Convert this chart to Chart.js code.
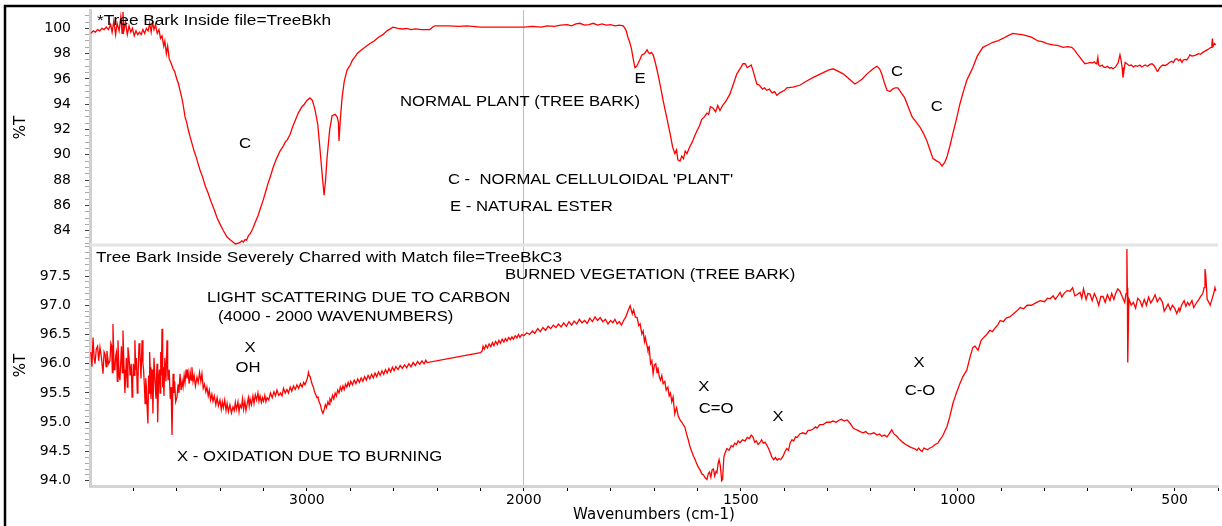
<!DOCTYPE html>
<html>
<head>
<meta charset="utf-8">
<title>Tree bark IR spectra</title>
<script src="https://cdn.jsdelivr.net/npm/chart.js@4.4.1/dist/chart.umd.min.js"></script>
<style>
  html, body { margin: 0; padding: 0; background: #fff; }
  #wrap { width: 1222px; height: 526px; }
</style>
</head>
<body>
<div id="wrap"><canvas id="irChart" width="1222" height="526"></canvas></div>
<script>
// Spectra: [wavenumber (cm-1), %T]
const normalBark = [
  [3996, 99.6], [3985, 99.8], [3975, 99.7], [3965, 99.9], [3955, 99.8], [3945, 100.0],
  [3935, 99.9], [3925, 100.1], [3915, 99.9], [3905, 100.3], [3898, 99.7], [3890, 100.6],
  [3882, 99.5], [3875, 100.4], [3866, 99.8], [3858, 100.9], [3852, 99.6], [3848, 101.3],
  [3843, 99.9], [3836, 100.5], [3828, 99.5], [3820, 100.2], [3812, 99.7], [3804, 100.0],
  [3796, 99.4], [3788, 99.8], [3780, 99.5], [3772, 99.7], [3764, 99.5], [3756, 99.9],
  [3748, 99.6], [3740, 100.0], [3732, 99.8], [3725, 100.4], [3718, 99.7], [3712, 100.5],
  [3705, 99.9], [3698, 100.3], [3690, 99.6], [3682, 99.9], [3675, 99.2], [3668, 99.4],
  [3660, 98.6], [3655, 99.0], [3648, 98.0], [3642, 98.6], [3635, 97.6], [3625, 97.2],
  [3617, 96.8], [3610, 96.6], [3600, 96.0], [3592, 95.6], [3585, 95.1], [3578, 94.6],
  [3570, 93.9], [3562, 93.0], [3555, 92.6], [3546, 91.9], [3538, 91.4], [3530, 90.9],
  [3520, 90.3], [3510, 89.8], [3500, 89.2], [3493, 88.8], [3480, 88.2], [3468, 87.5],
  [3456, 87.0], [3442, 86.3], [3428, 85.7], [3414, 85.0], [3400, 84.5], [3385, 84.0],
  [3368, 83.5], [3355, 83.3], [3341, 83.1], [3330, 82.95], [3320, 83.0], [3310, 83.05],
  [3300, 83.2], [3293, 83.1], [3285, 83.3], [3278, 83.25], [3270, 83.6], [3260, 83.8],
  [3249, 84.2], [3237, 84.7], [3225, 85.2], [3214, 85.8], [3202, 86.4], [3190, 87.1],
  [3180, 87.7], [3168, 88.3], [3156, 89.0], [3140, 89.7], [3124, 90.3], [3112, 90.6],
  [3100, 91.0], [3090, 91.2], [3078, 91.6], [3064, 92.3], [3052, 92.8], [3040, 93.3],
  [3023, 93.8], [3012, 94.0], [3000, 94.3], [2986, 94.5], [2975, 94.3], [2963, 93.6],
  [2950, 92.4], [2940, 90.5], [2930, 88.5], [2921, 86.8], [2914, 88.0], [2907, 89.8],
  [2895, 92.0], [2884, 93.1], [2870, 93.2], [2861, 93.0], [2855, 92.6], [2852, 91.1],
  [2846, 92.8], [2838, 94.5], [2828, 95.8], [2815, 96.7], [2800, 97.1], [2790, 97.5],
  [2780, 97.7], [2769, 98.0], [2755, 98.2], [2740, 98.4], [2725, 98.6], [2709, 98.8],
  [2690, 99.0], [2670, 99.3], [2650, 99.5], [2631, 99.8], [2603, 100.1], [2580, 100.0],
  [2560, 99.95], [2540, 100.0], [2520, 99.9], [2500, 99.95], [2470, 99.9], [2433, 99.9],
  [2420, 100.1], [2410, 100.2], [2350, 100.2], [2300, 100.15], [2262, 100.2], [2202, 100.1],
  [2100, 100.1], [2000, 100.1], [1980, 100.15], [1960, 100.1], [1947, 100.2], [1930, 100.15],
  [1915, 100.25], [1900, 100.3], [1890, 100.2], [1880, 100.35], [1871, 100.4], [1860, 100.25],
  [1850, 100.3], [1840, 100.4], [1830, 100.25], [1820, 100.35], [1810, 100.25], [1800, 100.3],
  [1790, 100.2], [1780, 100.25], [1771, 100.2], [1765, 99.9], [1760, 99.3], [1756, 98.9],
  [1752, 98.4], [1748, 97.6], [1744, 96.9], [1740, 97.0], [1737, 97.2], [1733, 97.5],
  [1728, 97.9], [1722, 98.0], [1716, 98.3], [1713, 98.1], [1710, 98.0], [1706, 98.1],
  [1702, 97.9], [1697, 97.3], [1691, 96.4], [1685, 95.4], [1679, 94.3], [1671, 93.0],
  [1663, 91.7], [1657, 90.6], [1652, 90.1], [1648, 90.4], [1645, 89.6], [1640, 89.5],
  [1636, 89.9], [1632, 89.7], [1628, 90.3], [1624, 90.1], [1618, 90.6], [1612, 91.0],
  [1606, 91.5], [1601, 91.9], [1595, 92.3], [1590, 92.8], [1584, 93.0], [1578, 93.3],
  [1574, 93.2], [1570, 93.8], [1564, 93.7], [1558, 93.4], [1553, 93.9], [1548, 93.5],
  [1542, 93.9], [1535, 94.2], [1530, 94.5], [1525, 94.8], [1517, 95.6], [1509, 96.4],
  [1500, 96.9], [1495, 97.2], [1490, 97.2], [1485, 96.9], [1480, 97.0], [1476, 97.1],
  [1472, 96.7], [1468, 96.2], [1463, 95.6], [1457, 95.5], [1450, 95.2], [1445, 95.3],
  [1440, 95.1], [1434, 95.2], [1428, 94.9], [1422, 95.0], [1417, 94.7], [1410, 94.9],
  [1405, 95.0], [1399, 95.1], [1394, 95.3], [1380, 95.35], [1364, 95.5], [1350, 95.8],
  [1334, 96.1], [1322, 96.3], [1310, 96.5], [1298, 96.7], [1287, 96.8], [1275, 96.6],
  [1264, 96.4], [1250, 96.0], [1237, 95.6], [1228, 95.8], [1220, 96.0], [1209, 96.4],
  [1195, 96.8], [1186, 97.0], [1180, 96.8], [1175, 96.4], [1169, 95.7], [1163, 95.1],
  [1156, 95.0], [1150, 95.2], [1144, 95.3], [1138, 95.3], [1130, 94.9], [1122, 94.5],
  [1113, 93.7], [1105, 93.0], [1096, 92.6], [1087, 92.2], [1079, 91.7], [1071, 91.1],
  [1064, 90.4], [1057, 89.7], [1052, 89.6], [1048, 89.5], [1042, 89.4], [1036, 89.1],
  [1030, 89.4], [1025, 89.8], [1018, 90.7], [1011, 91.7], [1003, 92.8], [995, 94.0],
  [987, 95.0], [979, 95.9], [972, 96.4], [965, 96.9], [955, 97.8], [942, 98.5],
  [930, 98.7], [919, 98.9], [908, 99.0], [896, 99.2], [885, 99.4], [873, 99.6],
  [862, 99.55], [852, 99.5], [840, 99.4], [830, 99.3], [815, 99.0], [805, 98.95],
  [794, 98.8], [780, 98.7], [770, 98.65], [757, 98.5], [747, 98.55], [737, 98.5],
  [731, 98.3], [725, 98.0], [716, 97.6], [707, 97.2], [700, 97.25], [695, 97.3],
  [690, 97.25], [685, 97.35], [681, 97.2], [679, 97.3], [677, 97.7], [675, 97.1],
  [672, 97.0], [667, 97.1], [664, 96.95], [660, 96.9], [655, 97.0], [650, 96.85],
  [646, 96.9], [642, 96.8], [636, 96.95], [630, 97.3], [626, 97.9], [623, 97.4],
  [621, 96.9], [619, 96.1], [617, 96.6], [614, 97.3], [610, 97.2], [605, 97.05],
  [600, 97.1], [595, 96.95], [590, 97.05], [585, 97.0], [580, 97.1], [576, 96.95],
  [573, 97.0], [568, 97.1], [562, 97.0], [557, 97.15], [552, 97.2], [547, 97.05],
  [543, 96.8], [540, 96.6], [538, 96.65], [535, 96.85], [531, 97.0], [527, 97.1],
  [522, 97.05], [517, 97.15], [512, 97.3], [507, 97.4], [503, 97.3], [499, 97.55],
  [495, 97.6], [491, 97.45], [487, 97.55], [483, 97.3], [480, 97.5], [476, 97.55],
  [472, 97.5], [468, 97.7], [465, 97.9], [460, 97.8], [455, 97.85], [450, 97.9],
  [445, 98.0], [440, 97.95], [435, 98.1], [430, 98.2], [425, 98.3], [420, 98.4],
  [416, 98.5], [414, 98.8], [413, 99.2], [411, 98.6], [408, 98.8], [405, 98.7]
];

const burnedBark = [
  [3996, 96.2], [3991, 95.95], [3986, 96.45], [3981, 96.1], [3977, 96.0], [3971, 96.25],
  [3965, 96.3], [3960, 96.05], [3954, 96.28], [3947, 96.1], [3940, 95.83], [3935, 96.2],
  [3930, 96.15], [3926, 95.95], [3922, 96.22], [3915, 96.0], [3908, 96.05], [3904, 96.35],
  [3900, 96.3], [3897, 95.85], [3894, 96.68], [3889, 95.9], [3885, 95.94], [3881, 96.15],
  [3878, 96.2], [3874, 95.7], [3871, 96.4], [3866, 95.8], [3862, 95.72], [3858, 96.05],
  [3855, 96.3], [3851, 95.85], [3848, 96.57], [3843, 95.9], [3839, 95.5], [3835, 95.85],
  [3832, 96.1], [3828, 95.6], [3825, 96.28], [3820, 96.1], [3815, 95.8], [3810, 96.0],
  [3806, 95.43], [3803, 95.7], [3800, 96.0], [3796, 95.8], [3793, 96.4], [3789, 95.9],
  [3786, 96.1], [3782, 95.5], [3779, 95.72], [3774, 96.35], [3770, 96.2], [3765, 95.75],
  [3760, 96.4], [3756, 96.0], [3753, 95.9], [3749, 95.6], [3746, 95.32], [3743, 95.75],
  [3740, 95.6], [3736, 95.2], [3733, 94.98], [3730, 95.8], [3728, 95.5], [3725, 96.2],
  [3723, 95.94], [3719, 95.4], [3716, 95.6], [3713, 95.9], [3710, 95.15], [3705, 96.1],
  [3700, 95.7], [3696, 95.4], [3691, 96.0], [3689, 95.6], [3687, 95.0], [3684, 95.7],
  [3680, 95.9], [3677, 95.5], [3674, 96.2], [3671, 95.8], [3668, 96.6], [3665, 95.6],
  [3663, 95.94], [3659, 95.45], [3655, 96.1], [3650, 95.7], [3645, 96.4], [3642, 95.9],
  [3640, 95.72], [3635, 95.9], [3630, 95.4], [3626, 95.6], [3622, 94.78], [3619, 95.4],
  [3617, 95.83], [3613, 95.5], [3610, 95.7], [3605, 95.35], [3599, 95.43], [3594, 95.65],
  [3590, 95.5], [3585, 95.83], [3580, 95.55], [3575, 95.7], [3571, 95.6], [3566, 95.8],
  [3562, 95.68], [3557, 95.9], [3553, 95.75], [3548, 95.86], [3543, 95.66], [3538, 95.85],
  [3534, 95.72], [3530, 95.94], [3525, 95.7], [3520, 95.8], [3514, 95.62], [3507, 95.77],
  [3501, 95.68], [3495, 95.85], [3489, 95.7], [3484, 95.83], [3478, 95.58], [3472, 95.65],
  [3466, 95.52], [3461, 95.6], [3455, 95.45], [3450, 95.55], [3444, 95.38], [3438, 95.48],
  [3433, 95.36], [3427, 95.45], [3420, 95.3], [3414, 95.42], [3408, 95.28], [3401, 95.38],
  [3395, 95.22], [3390, 95.35], [3385, 95.25], [3379, 95.38], [3373, 95.2], [3368, 95.32],
  [3362, 95.18], [3355, 95.3], [3348, 95.16], [3341, 95.26], [3335, 95.2], [3330, 95.34],
  [3325, 95.22], [3318, 95.35], [3313, 95.18], [3308, 95.3], [3302, 95.25], [3297, 95.4],
  [3292, 95.22], [3286, 95.36], [3281, 95.2], [3276, 95.3], [3270, 95.42], [3266, 95.28],
  [3262, 95.4], [3256, 95.3], [3249, 95.45], [3244, 95.32], [3238, 95.47], [3232, 95.38],
  [3226, 95.5], [3221, 95.36], [3216, 95.45], [3210, 95.34], [3205, 95.42], [3200, 95.36],
  [3194, 95.46], [3189, 95.35], [3184, 95.42], [3176, 95.38], [3168, 95.5], [3160, 95.42],
  [3152, 95.52], [3145, 95.45], [3138, 95.55], [3130, 95.46], [3122, 95.5], [3115, 95.45],
  [3108, 95.58], [3100, 95.5], [3092, 95.56], [3085, 95.5], [3077, 95.6], [3070, 95.53],
  [3062, 95.62], [3054, 95.56], [3046, 95.64], [3038, 95.58], [3030, 95.66], [3022, 95.6],
  [3015, 95.68], [3009, 95.64], [3003, 95.7], [2998, 95.75], [2993, 95.85], [2990, 95.8],
  [2985, 95.78], [2980, 95.7], [2975, 95.64], [2970, 95.6], [2965, 95.52], [2960, 95.48],
  [2954, 95.42], [2949, 95.43], [2944, 95.35], [2938, 95.3], [2932, 95.2], [2926, 95.15],
  [2920, 95.22], [2915, 95.3], [2910, 95.25], [2903, 95.35], [2898, 95.3], [2894, 95.4],
  [2888, 95.36], [2882, 95.46], [2876, 95.4], [2870, 95.5], [2864, 95.45], [2858, 95.55],
  [2852, 95.5], [2846, 95.6], [2840, 95.54], [2834, 95.62], [2828, 95.56], [2822, 95.65],
  [2816, 95.6], [2810, 95.68], [2804, 95.62], [2798, 95.7], [2790, 95.64], [2782, 95.72],
  [2774, 95.66], [2766, 95.74], [2758, 95.68], [2750, 95.76], [2742, 95.7], [2734, 95.78],
  [2726, 95.72], [2718, 95.8], [2710, 95.74], [2702, 95.82], [2694, 95.76], [2686, 95.84],
  [2678, 95.78], [2670, 95.86], [2662, 95.8], [2654, 95.88], [2646, 95.82], [2638, 95.9],
  [2630, 95.84], [2622, 95.92], [2614, 95.86], [2606, 95.94], [2598, 95.88], [2590, 95.95],
  [2580, 95.9], [2570, 95.97], [2560, 95.92], [2550, 95.98], [2540, 95.93], [2530, 96.0],
  [2520, 95.95], [2510, 96.02], [2500, 95.97], [2490, 96.04], [2480, 95.99], [2470, 96.05],
  [2460, 96.0], [2452, 96.06], [2446, 96.02], [2200, 96.19], [2192, 96.22], [2188, 96.3],
  [2182, 96.25], [2175, 96.32], [2168, 96.27], [2160, 96.34], [2152, 96.29], [2145, 96.36],
  [2138, 96.31], [2130, 96.38], [2122, 96.33], [2115, 96.4], [2108, 96.35], [2100, 96.42],
  [2092, 96.37], [2085, 96.43], [2078, 96.39], [2070, 96.45], [2062, 96.41], [2055, 96.46],
  [2048, 96.42], [2040, 96.48], [2032, 96.44], [2025, 96.5], [2018, 96.45], [2010, 96.5],
  [2000, 96.48], [1993, 96.53], [1987, 96.5], [1980, 96.56], [1975, 96.52], [1968, 96.6],
  [1962, 96.55], [1956, 96.62], [1950, 96.57], [1944, 96.64], [1938, 96.6], [1932, 96.66],
  [1926, 96.62], [1920, 96.68], [1914, 96.63], [1908, 96.7], [1902, 96.64], [1896, 96.72],
  [1890, 96.66], [1884, 96.73], [1878, 96.68], [1872, 96.76], [1866, 96.7], [1860, 96.74],
  [1854, 96.69], [1848, 96.78], [1842, 96.72], [1836, 96.8], [1830, 96.74], [1824, 96.79],
  [1818, 96.72], [1812, 96.76], [1806, 96.68], [1800, 96.74], [1795, 96.7], [1790, 96.76],
  [1785, 96.68], [1780, 96.72], [1775, 96.66], [1770, 96.74], [1765, 96.8], [1760, 96.9],
  [1755, 96.99], [1750, 96.85], [1747, 96.92], [1743, 96.8], [1739, 96.79], [1735, 96.65],
  [1732, 96.68], [1728, 96.51], [1725, 96.56], [1722, 96.38], [1720, 96.45], [1716, 96.3],
  [1714, 96.23], [1711, 96.28], [1708, 96.0], [1705, 96.05], [1702, 95.83], [1699, 95.98],
  [1696, 96.0], [1693, 95.85], [1691, 95.94], [1688, 95.78], [1685, 95.72], [1682, 95.8],
  [1679, 95.66], [1675, 95.7], [1672, 95.55], [1668, 95.6], [1665, 95.45], [1662, 95.5],
  [1659, 95.35], [1656, 95.43], [1653, 95.2], [1652, 95.15], [1648, 95.25], [1644, 95.1],
  [1640, 95.04], [1636, 95.0], [1632, 94.95], [1629, 94.92], [1625, 94.8], [1621, 94.7],
  [1617, 94.58], [1613, 94.5], [1609, 94.42], [1605, 94.36], [1601, 94.28], [1597, 94.22],
  [1594, 94.19], [1590, 94.12], [1586, 94.1], [1582, 94.05], [1578, 94.02], [1575, 94.12],
  [1572, 94.15], [1569, 94.06], [1566, 94.19], [1563, 94.2], [1560, 94.08], [1557, 94.16],
  [1555, 94.14], [1552, 94.3], [1550, 94.36], [1547, 94.25], [1544, 94.0], [1542, 94.02],
  [1539, 94.4], [1536, 94.48], [1532, 94.55], [1527, 94.52], [1522, 94.6], [1518, 94.58],
  [1514, 94.64], [1510, 94.62], [1506, 94.68], [1502, 94.65], [1496, 94.7], [1490, 94.68],
  [1485, 94.74], [1480, 94.72], [1476, 94.78], [1472, 94.75], [1468, 94.66], [1464, 94.68],
  [1460, 94.62], [1456, 94.65], [1452, 94.7], [1448, 94.64], [1444, 94.66], [1440, 94.61],
  [1436, 94.55], [1432, 94.48], [1428, 94.4], [1424, 94.36], [1420, 94.4], [1416, 94.35],
  [1412, 94.38], [1408, 94.36], [1403, 94.41], [1398, 94.5], [1394, 94.55], [1390, 94.52],
  [1386, 94.65], [1382, 94.70], [1378, 94.68], [1374, 94.75], [1370, 94.74], [1364, 94.8],
  [1357, 94.82], [1350, 94.8], [1345, 94.86], [1340, 94.86], [1334, 94.88], [1328, 94.92],
  [1324, 94.90], [1318, 94.96], [1310, 94.96], [1302, 95.0], [1294, 95.0], [1288, 95.02],
  [1280, 95.0], [1275, 95.03], [1268, 95.05], [1262, 95.02], [1255, 95.04], [1250, 95.0],
  [1245, 94.95], [1241, 94.90], [1236, 94.88], [1230, 94.86], [1225, 94.84], [1218, 94.82],
  [1212, 94.84], [1206, 94.8], [1200, 94.80], [1193, 94.82], [1186, 94.78], [1180, 94.8],
  [1175, 94.76], [1169, 94.78], [1163, 94.75], [1158, 94.8], [1152, 94.87], [1147, 94.8],
  [1140, 94.76], [1136, 94.72], [1133, 94.70], [1127, 94.66], [1120, 94.62], [1115, 94.6],
  [1110, 94.58], [1105, 94.56], [1100, 94.55], [1094, 94.52], [1090, 94.56], [1087, 94.53],
  [1082, 94.5], [1078, 94.56], [1075, 94.55], [1070, 94.53], [1064, 94.56], [1058, 94.58],
  [1052, 94.62], [1046, 94.64], [1041, 94.70], [1035, 94.76], [1030, 94.84], [1025, 94.92],
  [1018, 95.1], [1011, 95.32], [1004, 95.48], [995, 95.66], [988, 95.78], [979, 95.89],
  [972, 96.1], [965, 96.28], [960, 96.3], [953, 96.23], [946, 96.4], [940, 96.45],
  [933, 96.5], [926, 96.57], [920, 96.55], [915, 96.6], [908, 96.66], [902, 96.74],
  [895, 96.72], [888, 96.78], [880, 96.8], [872, 96.85], [864, 96.9], [856, 96.96],
  [848, 96.94], [840, 97.0], [830, 97.0], [820, 97.04], [810, 97.08], [800, 97.06],
  [793, 97.12], [787, 97.11], [780, 97.16], [775, 97.1], [770, 97.15], [764, 97.22],
  [760, 97.14], [755, 97.2], [748, 97.25], [741, 97.24], [735, 97.3], [730, 97.16],
  [725, 97.18], [718, 97.22], [714, 97.12], [710, 97.28], [704, 97.1], [700, 97.2],
  [695, 97.19], [690, 97.08], [685, 97.2], [680, 97.12], [675, 97.0], [670, 97.15],
  [665, 97.15], [660, 97.05], [655, 97.18], [649, 97.08], [645, 97.2], [640, 97.1],
  [636, 97.2], [631, 97.28], [626, 97.24], [621, 97.15], [615, 97.05], [612, 97.2],
  [610, 97.96], [609, 97.3], [608, 96.02], [606, 96.9], [605, 97.1], [600, 97.0],
  [595, 97.05], [590, 96.95], [585, 97.12], [580, 97.08], [575, 96.98], [570, 97.1],
  [565, 97.0], [560, 97.14], [555, 97.04], [550, 97.1], [545, 97.18], [540, 97.06],
  [534, 97.13], [528, 97.05], [524, 96.9], [520, 96.95], [515, 97.02], [510, 96.92],
  [505, 97.0], [500, 96.95], [495, 96.86], [490, 96.95], [488, 96.9], [484, 97.0],
  [478, 97.08], [474, 96.98], [470, 97.05], [466, 97.0], [460, 97.08], [456, 96.96],
  [453, 97.0], [448, 97.06], [444, 97.1], [440, 97.15], [435, 97.2], [432, 97.3],
  [430, 97.62], [428, 97.5], [425, 97.1], [421, 97.05], [418, 97.0], [414, 97.1],
  [410, 97.2], [407, 97.3], [405, 97.24]
];

// tick labels
const xTickLabels = [3000, 2000, 1500, 1000, 500];
const topTickLabels = [84, 86, 88, 90, 92, 94, 96, 98, 100];
const bottomTickLabels = [94.0, 94.5, 95.0, 95.5, 96.0, 96.5, 97.0, 97.5];

// OMNIC style axis: below 2000 cm-1 the scale is stretched 2x
const WN_HIGH = 4000, WN_LOW = 400, WN_BREAK = 2000, LOW_ZOOM = 2;
const TEXT_STRETCH = 1.15;

class WaveScale extends Chart.LinearScale {
  units(v) {
    return v >= WN_BREAK ? WN_HIGH - v : (WN_HIGH - WN_BREAK) + LOW_ZOOM * (WN_BREAK - v);
  }
  getPixelForValue(v) {
    return this.getPixelForDecimal(this.units(v) / this.units(WN_LOW));
  }
  getValueForPixel(px) {
    const u = this.getDecimalForPixel(px) * this.units(WN_LOW);
    const hi = WN_HIGH - WN_BREAK;
    return u <= hi ? WN_HIGH - u : WN_BREAK - (u - hi) / LOW_ZOOM;
  }
  buildTicks() {
    const ticks = [];
    for (let v = 3800; v > WN_BREAK; v -= 200) ticks.push({ value: v });
    for (let v = WN_BREAK; v >= WN_LOW; v -= 100) ticks.push({ value: v });
    this.start = this.min;
    this.end = this.max;
    return ticks;
  }
}
WaveScale.id = 'wavenumber';
WaveScale.defaults = Chart.LinearScale.defaults;
Chart.register(WaveScale);

// text written on the plot, placed in data units
const annotations = [
  { text: '*Tree Bark Inside file=TreeBkh', wn: 3968, val: 100.58, axis: 'yTop', align: 'left', size: 15 },
  { text: 'C', wn: 3285, val: 90.85, axis: 'yTop', align: 'center', size: 14.5 },
  { text: 'NORMAL PLANT (TREE BARK)', wn: 2571, val: 94.17, axis: 'yTop', align: 'left', size: 14.5 },
  { text: 'E', wn: 1732, val: 95.99, axis: 'yTop', align: 'center', size: 14.5 },
  { text: "C -  NORMAL CELLULOIDAL 'PLANT'", wn: 2350, val: 88.01, axis: 'yTop', align: 'left', size: 14.5 },
  { text: 'E - NATURAL ESTER', wn: 2340, val: 85.88, axis: 'yTop', align: 'left', size: 14.5 },
  { text: 'C', wn: 1140, val: 96.55, axis: 'yTop', align: 'center', size: 14.5 },
  { text: 'C', wn: 1048, val: 93.78, axis: 'yTop', align: 'center', size: 14.5 },
  { text: 'Tree Bark Inside Severely Charred with Match file=TreeBkC3', wn: 3972, val: 97.81, axis: 'yBot', align: 'left', size: 15 },
  { text: 'BURNED VEGETATION (TREE BARK)', wn: 2087, val: 97.52, axis: 'yBot', align: 'left', size: 14.5 },
  { text: 'LIGHT SCATTERING DUE TO CARBON', wn: 3461, val: 97.12, axis: 'yBot', align: 'left', size: 14.5 },
  { text: '(4000 - 2000 WAVENUMBERS)', wn: 3410, val: 96.80, axis: 'yBot', align: 'left', size: 14.5 },
  { text: 'X', wn: 3262, val: 96.27, axis: 'yBot', align: 'center', size: 14.5 },
  { text: 'OH', wn: 3272, val: 95.93, axis: 'yBot', align: 'center', size: 14.5 },
  { text: 'X', wn: 1585, val: 95.60, axis: 'yBot', align: 'center', size: 14.5 },
  { text: 'C=O', wn: 1557, val: 95.23, axis: 'yBot', align: 'center', size: 14.5 },
  { text: 'X', wn: 1414, val: 95.09, axis: 'yBot', align: 'center', size: 14.5 },
  { text: 'X', wn: 1089, val: 96.01, axis: 'yBot', align: 'center', size: 14.5 },
  { text: 'C-O', wn: 1087, val: 95.53, axis: 'yBot', align: 'center', size: 14.5 },
  { text: 'X - OXIDATION DUE TO BURNING', wn: 3599, val: 94.41, axis: 'yBot', align: 'left', size: 14.5 }
];

const tickFont = { family: 'DejaVu Sans', size: 14 };
const titleFont = { family: 'DejaVu Sans', size: 15 };

function toPoints(spectrum) {
  return spectrum.map(p => ({ x: p[0], y: p[1] }));
}

function roundTenth(v) {
  return Math.round(v * 10) / 10;
}

const annotationPlugin = {
  id: 'annotations',
  afterDatasetsDraw(chart) {
    const ctx = chart.ctx;
    ctx.save();
    ctx.fillStyle = '#000';
    ctx.textBaseline = 'middle';
    annotations.forEach(a => {
      const px = chart.scales.x.getPixelForValue(a.wn);
      const py = chart.scales[a.axis].getPixelForValue(a.val);
      ctx.save();
      ctx.translate(px, py);
      ctx.scale(TEXT_STRETCH, 1);
      ctx.font = a.size + 'px "Liberation Sans", Arial, sans-serif';
      ctx.textAlign = a.align;
      ctx.fillText(a.text, 0, 0);
      ctx.restore();
    });
    ctx.restore();
  }
};

// panel separator and the outer frame
const framePlugin = {
  id: 'frame',
  beforeDatasetsDraw(chart) {
    const ctx = chart.ctx;
    const area = chart.chartArea;
    const y = chart.scales.yBot.top;
    ctx.save();
    ctx.strokeStyle = '#e4e4e4';
    ctx.lineWidth = 3;
    ctx.beginPath();
    ctx.moveTo(area.left, y);
    ctx.lineTo(area.right, y);
    ctx.stroke();
    ctx.restore();
  },
  afterDraw(chart) {
    const ctx = chart.ctx;
    ctx.save();
    ctx.strokeStyle = '#000';
    ctx.lineWidth = 2.5;
    ctx.beginPath();
    ctx.moveTo(5, chart.height);
    ctx.lineTo(5, 6);
    ctx.lineTo(chart.width, 6);
    ctx.stroke();
    ctx.restore();
  }
};

function yAxis(min, max, step, weight, labels, format) {
  const isMajor = v => labels.includes(roundTenth(v));
  return {
    type: 'linear',
    position: 'left',
    stack: 'ir',
    stackWeight: weight,
    min: min,
    max: max,
    ticks: {
      stepSize: step,
      includeBounds: false,
      autoSkip: false,
      font: tickFont,
      color: '#000',
      padding: 14,
      callback: v => isMajor(v) ? format(roundTenth(v)) : ''
    },
    grid: {
      drawOnChartArea: false,
      tickLength: 5,
      tickColor: ctx => (ctx.tick && isMajor(ctx.tick.value)) ? '#444' : '#aaa'
    },
    border: { color: '#cfcfcf', width: 3 },
    title: { display: true, text: '%T', font: titleFont, color: '#000', padding: { top: 12, bottom: 0 } },
    afterFit: s => {
      s.width = 90;
      // the panels fill the whole height, no room kept for end labels
      s.paddingTop = 0;
      s.paddingBottom = 0;
    }
  };
}

const ctxIr = document.getElementById('irChart');
new Chart(ctxIr, {
  type: 'line',
  data: {
    datasets: [{
      label: 'Tree Bark Inside',
      data: toPoints(normalBark),
      yAxisID: 'yTop',
      borderColor: '#ff0000',
      borderWidth: 1.3,
      pointRadius: 0,
      tension: 0,
      fill: false
    }, {
      label: 'Tree Bark Inside Severely Charred',
      data: toPoints(burnedBark),
      yAxisID: 'yBot',
      borderColor: '#ff0000',
      borderWidth: 1.3,
      pointRadius: 0,
      tension: 0,
      fill: false
    }]
  },
  options: {
    responsive: false,
    animation: false,
    events: [],
    layout: { padding: { top: 10, right: 4, left: 0, bottom: 0 } },
    plugins: {
      legend: { display: false },
      title: { display: false },
      tooltip: { enabled: false }
    },
    scales: {
      x: {
        type: 'wavenumber',
        position: 'bottom',
        min: WN_LOW,
        max: WN_HIGH,
        ticks: {
          autoSkip: false,
          maxRotation: 0,
          minRotation: 0,
          font: tickFont,
          color: '#000',
          padding: 1,
          callback: v => xTickLabels.includes(v) ? String(v) : ''
        },
        grid: {
          color: ctx => (ctx.tick && ctx.tick.value === WN_BREAK) ? '#bdbdbd' : 'rgba(0,0,0,0)',
          tickColor: '#000',
          tickLength: 5,
          lineWidth: 1
        },
        border: { color: '#d4d4d4', width: 3 },
        title: { display: true, text: 'Wavenumbers (cm-1)', font: titleFont, color: '#000', padding: { top: 0, bottom: 2 } },
        afterFit: s => { s.height = 40; }
      },
      yBot: yAxis(93.91, 98.03, 0.1, 241, bottomTickLabels, v => v.toFixed(1)),
      yTop: yAxis(82.87, 101.45, 0.5, 235, topTickLabels, v => String(v))
    }
  },
  plugins: [annotationPlugin, framePlugin]
});
</script>
</body>
</html>
